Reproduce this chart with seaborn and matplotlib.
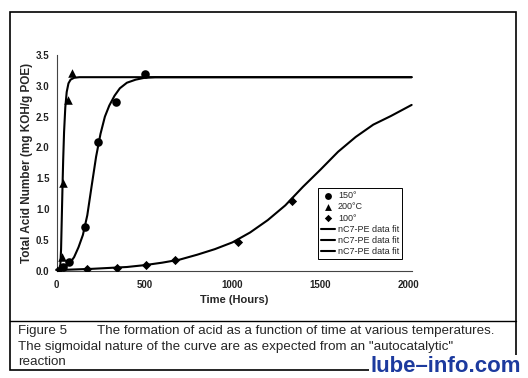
import numpy as np
import pandas as pd
import matplotlib.pyplot as plt
import seaborn as sns
from matplotlib.patches import Rectangle
from matplotlib.lines import Line2D

# measured points (hours, TAN)
t_150 = [0, 35, 73, 164, 238, 336, 505]
tan_150 = [0.0, 0.06, 0.14, 0.71, 2.09, 2.73, 3.19]
t_200 = [0, 32, 39, 67, 90]
tan_200 = [0.0, 0.23, 1.43, 2.77, 3.2]
t_100 = [0, 171, 342, 507, 673, 1030, 1340]
tan_100 = [0.0, 0.03, 0.04, 0.09, 0.17, 0.47, 1.13]

# fitted curves
fit_t_150 = [0, 50, 75, 100, 125, 150, 175, 200, 225, 250, 275, 300, 330, 360,
             400, 450, 500, 560, 2018]
fit_v_150 = [0.02, 0.06, 0.12, 0.22, 0.38, 0.58, 0.9, 1.38, 1.85, 2.22, 2.5, 2.68,
             2.84, 2.96, 3.05, 3.1, 3.13, 3.14, 3.14]
fit_t_200 = [0, 15, 22, 26, 30, 34, 38, 43, 50, 58, 68, 80, 100, 130, 2018]
fit_v_200 = [0.01, 0.03, 0.1, 0.35, 0.85, 1.35, 1.8, 2.25, 2.65, 2.9, 3.04, 3.1,
             3.13, 3.14, 3.14]
fit_t_100 = [0, 100, 200, 300, 400, 500, 600, 700, 800, 900, 1000, 1100, 1200,
             1300, 1400, 1500, 1600, 1700, 1800, 1900, 2018]
fit_v_100 = [0.01, 0.02, 0.03, 0.045, 0.06, 0.09, 0.13, 0.18, 0.26, 0.35, 0.46,
             0.62, 0.82, 1.06, 1.36, 1.64, 1.93, 2.17, 2.37, 2.51, 2.69]

labels = ["150°", "200°C", "100°"]
fit_label = "nC7-PE data fit"

sns.set_style("white")
plt.rcParams['font.family'] = ['Liberation Sans', 'DejaVu Sans']

fig = plt.figure(figsize=(5.28, 3.78), dpi=100)
ax = fig.add_axes([56.5 / 528, 1 - 270.7 / 378, (412 - 56.5) / 528, 215.7 / 378])

sns.scatterplot(x=t_150, y=tan_150, ax=ax, marker='o', s=38, color='black',
                edgecolor='black', linewidth=0, label=labels[0], zorder=3)
sns.scatterplot(x=t_200, y=tan_200, ax=ax, marker='^', s=38, color='black',
                edgecolor='black', linewidth=0, label=labels[1], zorder=3)
sns.scatterplot(x=t_100, y=tan_100, ax=ax, marker='D', s=22, color='black',
                edgecolor='black', linewidth=0, label=labels[2], zorder=3)

for ft, fv in [(fit_t_150, fit_v_150), (fit_t_200, fit_v_200), (fit_t_100, fit_v_100)]:
    sns.lineplot(x=ft, y=fv, ax=ax, color='black', lw=1.5, label=fit_label,
                 sort=False, estimator=None, clip_on=False)

ax.set_xlim(0, 2020)
ax.set_ylim(0, 3.5)
ax.set_xticks([0, 500, 1000, 1500, 2000])
ax.set_yticks(np.arange(0, 3.51, 0.5))
ax.set_yticklabels([f"{v:.1f}" for v in np.arange(0, 3.51, 0.5)])
ax.tick_params(axis='both', labelsize=7, length=3, width=0.8, direction='out',
               colors='black', pad=2)
ax.tick_params(axis='x', pad=4)
for lab in ax.get_xticklabels() + ax.get_yticklabels():
    lab.set_fontweight('bold')
    lab.set_color('#222222')
for side in ['top', 'right']:
    ax.spines[side].set_visible(False)
for side in ['left', 'bottom']:
    ax.spines[side].set_color('#444444')
    ax.spines[side].set_linewidth(0.8)

ax.set_xlabel("Time (Hours)", fontsize=8, fontweight='bold', labelpad=3)
ax.set_ylabel("Total Acid Number (mg KOH/g POE)", fontsize=8.5, fontweight='bold',
              labelpad=2)

handles, labs = ax.get_legend_handles_labels()
leg = ax.legend(handles, labs, loc='lower left', bbox_to_anchor=(0.736, 0.054),
                borderaxespad=0, fontsize=6.5, frameon=True, fancybox=False,
                edgecolor='black', framealpha=1, handlelength=1.6, handletextpad=0.3,
                labelspacing=0.25, borderpad=0.3, markerscale=0.8)
leg.get_frame().set_linewidth(0.7)

# outer frame of the figure panel and caption divider
fig.add_artist(Rectangle((10 / 528, 1 - 370 / 378), 506 / 528, 358 / 378,
                         transform=fig.transFigure, fill=False, edgecolor='black', lw=1.2))
fig.add_artist(Line2D([10 / 528, 516 / 528], [1 - 321 / 378] * 2,
                      transform=fig.transFigure, color='black', lw=1.0))

cap_fs = 9.6
fig.text(18 / 528, 1 - 331 / 378, "Figure 5", fontsize=cap_fs, va='center', ha='left')
fig.text(97 / 528, 1 - 331 / 378,
         "The formation of acid as a function of time at various temperatures.",
         fontsize=cap_fs, va='center', ha='left')
fig.text(18 / 528, 1 - 347 / 378,
         "The sigmoidal nature of the curve are as expected from an \"autocatalytic\"",
         fontsize=cap_fs, va='center', ha='left')
fig.text(18 / 528, 1 - 362 / 378, "reaction", fontsize=cap_fs, va='center', ha='left')

fig.text(521 / 528, 1 - 367 / 378, "lube–info.com", fontsize=16, fontweight='bold',
         color='#1c3a9e', ha='right', va='center',
         bbox=dict(facecolor='white', edgecolor='none', pad=1))

fig.savefig("out.png", dpi=100)
